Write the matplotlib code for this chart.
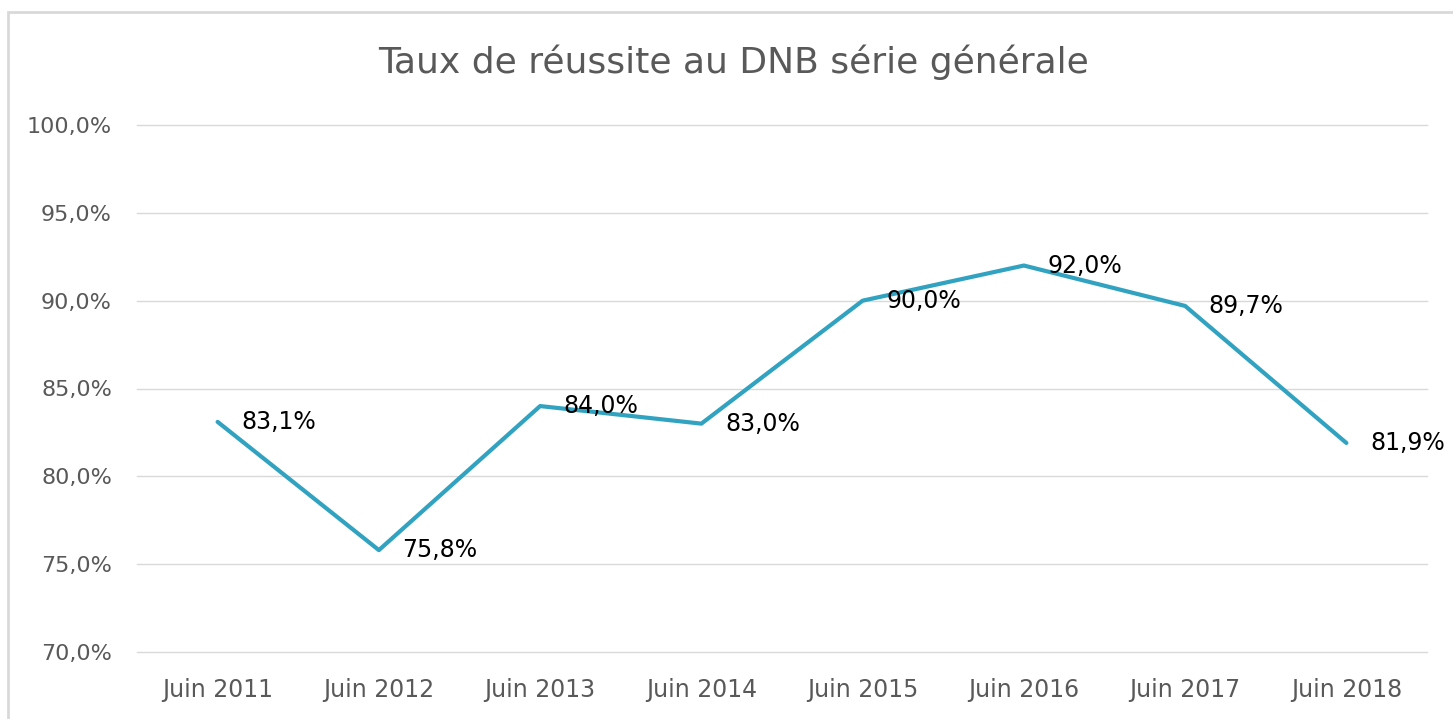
import matplotlib
matplotlib.use("Agg")
import matplotlib.pyplot as plt
from matplotlib.patches import Rectangle

categories = ["Juin 2011", "Juin 2012", "Juin 2013", "Juin 2014",
              "Juin 2015", "Juin 2016", "Juin 2017", "Juin 2018"]
values = [83.1, 75.8, 84.0, 83.0, 90.0, 92.0, 89.7, 81.9]
yticks = [70, 75, 80, 85, 90, 95, 100]
title = "Taux de réussite au DNB série générale"

plt.rcParams["font.family"] = ["DejaVu Sans"]

fig = plt.figure(figsize=(14.53, 7.19), dpi=100)
ax = fig.add_axes([137/1453, 67/719, 1290/1453, 527/719])

x = list(range(len(categories)))
ax.plot(x, values, color="#31A3C1", lw=3.0, solid_capstyle="round", solid_joinstyle="round", zorder=3)
for xi, v in zip(x, values):
    ax.annotate(f"{v:.1f}%".replace(".", ","), (xi, v), xytext=(17, 0),
                textcoords="offset points", ha="left", va="center",
                fontsize=17, color="#000000", zorder=4)

ax.set_xlim(-0.5, len(categories) - 0.5)
ax.set_ylim(70, 100)
ax.set_yticks(yticks)
ax.set_yticklabels([f"{t:.1f}%".replace(".", ",") for t in yticks])
ax.set_xticks(x)
ax.set_xticklabels(categories)
ax.tick_params(axis="both", length=0, colors="#595959")
ax.tick_params(axis="y", pad=18, labelsize=16)
ax.tick_params(axis="x", pad=19, labelsize=17)
ax.grid(axis="y", color="#d9d9d9", lw=1.0)
for gl in ax.get_ygridlines():
    gl.set_clip_on(False)
ax.set_axisbelow(True)
for s in ax.spines.values():
    s.set_visible(False)

fig.text(733.5/1453, 1 - 62/719, title, ha="center", va="center", fontsize=26, color="#595959")

fig.patches.append(Rectangle((8/1453, -0.05), 1.1, 1 - 12/719 + 0.05,
                             transform=fig.transFigure, fill=False,
                             edgecolor="#d9d9d9", lw=2))

fig.savefig("out.png", dpi=100)
